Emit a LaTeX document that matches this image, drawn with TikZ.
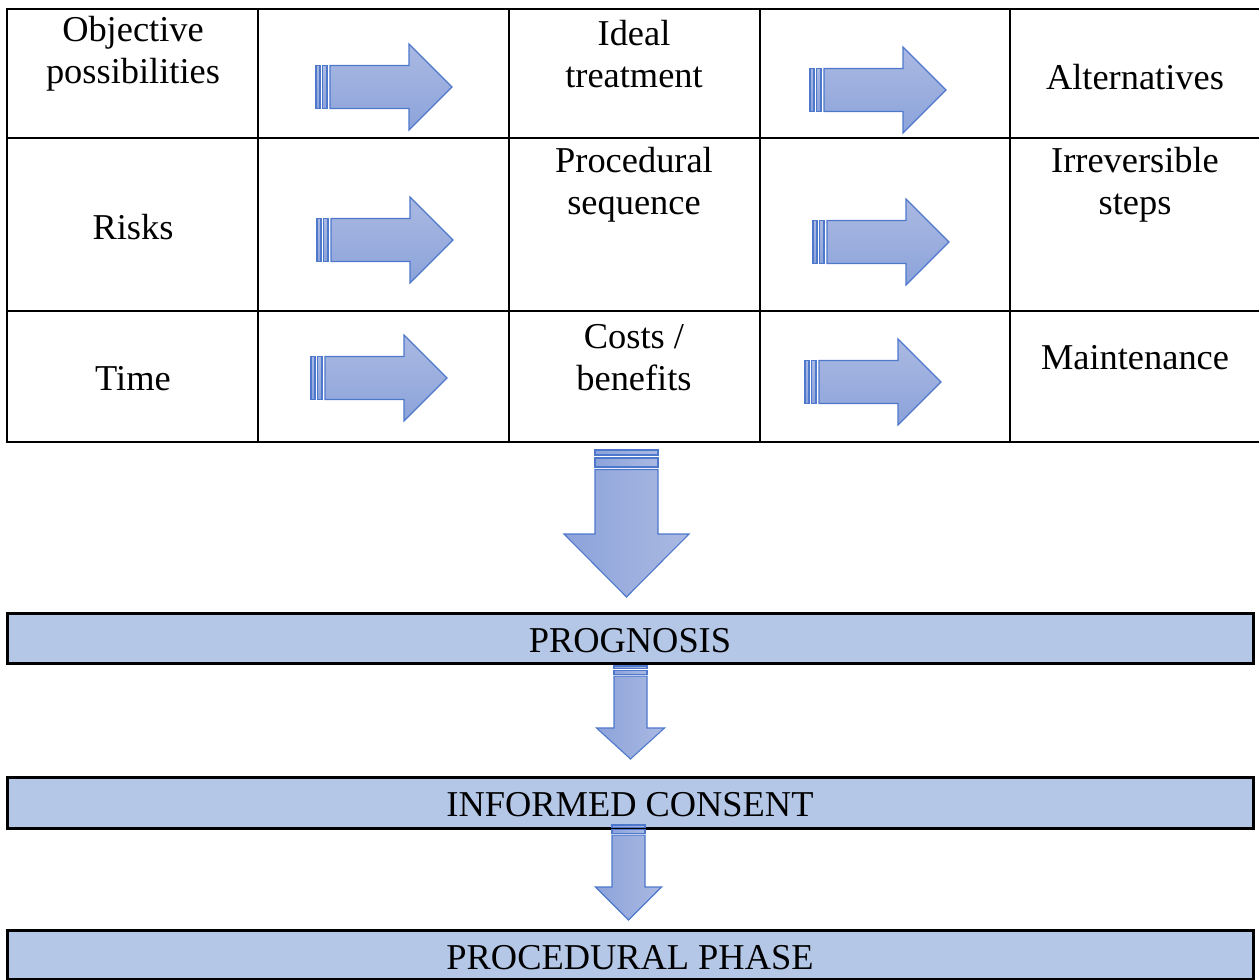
\documentclass[tikz,border=0pt]{standalone}
\usepackage{fontspec}
\setmainfont{Liberation Serif}
\definecolor{arrdark}{HTML}{8CA3DA}
\definecolor{arrlight}{HTML}{AAB9E2}
\definecolor{arrline}{HTML}{4E78CC}
\definecolor{bandfill}{HTML}{B4C7E7}
\tikzset{
  arrowline/.style={draw=arrline, line width=0.55pt, line join=miter},
  shadeR/.style={top color=arrlight, bottom color=arrdark},
  shadeD/.style={left color=arrdark, right color=arrlight},
  grid/.style={line width=1.4pt, line cap=rect},
  band/.style={draw=black, fill=bandfill, line width=1.5pt},
  txt/.style={font=\fontsize{18.2}{21}\selectfont, align=center, inner sep=0pt},
}
% right arrow: #1 stripe start x, #2 centre y
\newcommand\rarrow[2]{%
  \path[arrowline, shadeR] (#1,#2-21.5) rectangle (#1+4,#2+21.5);
  \path[arrowline, shadeR] (#1+6.5,#2-21.5) rectangle (#1+11,#2+21.5);
  \path[arrowline, shadeR] (#1+14,#2-21.5) -- (#1+93,#2-21.5) -- (#1+93,#2-43)
     -- (#1+136,#2) -- (#1+93,#2+43) -- (#1+93,#2+21.5) -- (#1+14,#2+21.5) -- cycle;
}
% down arrow: #1 cx, #2 stripe start y, #3 shaft half, #4 head half, #5 head y, #6 tip y, #7 stripe factor
\newcommand\darrow[7]{%
  \path[arrowline, shadeD] (#1-#3,#2) rectangle (#1+#3,#2+5*#7);
  \path[arrowline, shadeD] (#1-#3,#2+8*#7) rectangle (#1+#3,#2+17*#7);
  \path[arrowline, shadeD] (#1-#3,#2+19.5*#7) -- (#1-#3,#5) -- (#1-#4,#5) -- (#1,#6)
     -- (#1+#4,#5) -- (#1+#3,#5) -- (#1+#3,#2+19.5*#7) -- cycle;
}
\begin{document}
\begin{tikzpicture}[x=0.5pt,y=-0.5pt]
\useasboundingbox (0,0) rectangle (1259,980);
% table grid
\foreach \yy in {9,138,311,442} \draw[grid] (7,\yy) -- (1260,\yy);
\foreach \xx in {7,258,509,760,1010} \draw[grid] (\xx,9) -- (\xx,442);
% cell texts
\node[txt] (c11) at (133,54) {Objective\\possibilities};
\node[txt] (c12) at (634,54) {Ideal\\treatment};
\node[txt] (c13) at (1135,77) {Alternatives};
\node[txt] (c21) at (133,227) {Risks};
\node[txt] (c22) at (634,185) {Procedural\\sequence};
\node[txt] (c23) at (1135,185) {Irreversible\\steps};
\node[txt] (c31) at (133,379) {Time};
\node[txt] (c32) at (634,358) {Costs /\\benefits};
\node[txt] (c33) at (1135,358) {Maintenance};
% right arrows
\rarrow{316}{87}
\rarrow{810}{90}
\rarrow{317}{240}
\rarrow{813}{242}
\rarrow{311}{378}
\rarrow{805}{382}
% bands
\node[band, minimum width=623pt, minimum height=25pt, inner sep=0pt] (prog) at (630,638) {};
\node[txt] at (630,641) {PROGNOSIS};
\node[band, minimum width=623pt, minimum height=25.5pt, inner sep=0pt] (cons) at (630,802.5) {};
\node[txt] at (630,805) {INFORMED CONSENT};
\node[band, minimum width=623pt, minimum height=24.5pt, inner sep=0pt] (proc) at (630,954.5) {};
% down arrows
\darrow{626.5}{450}{31.5}{62.5}{534}{597}{1}
\darrow{630.5}{666}{16.5}{34}{728}{759}{0.52}
\darrow{628.5}{825}{16.5}{33}{887}{920}{0.52}
\node[txt] at (630,958) {PROCEDURAL PHASE};
\end{tikzpicture}
\end{document}
